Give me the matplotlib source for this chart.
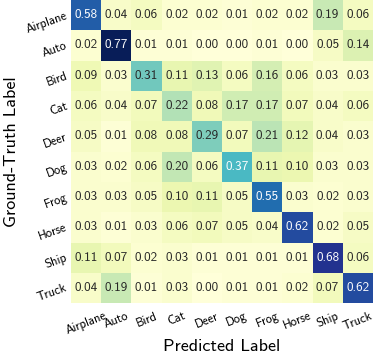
import matplotlib
matplotlib.use("Agg")
import matplotlib.pyplot as plt
import numpy as np
import seaborn as sns

classes = ["Airplane", "Auto", "Bird", "Cat", "Deer", "Dog", "Frog", "Horse", "Ship", "Truck"]

row_airplane = [0.58, 0.04, 0.06, 0.02, 0.02, 0.01, 0.02, 0.02, 0.19, 0.06]
row_auto = [0.02, 0.77, 0.01, 0.01, 0.00, 0.00, 0.01, 0.00, 0.05, 0.14]
row_bird = [0.09, 0.03, 0.31, 0.11, 0.13, 0.06, 0.16, 0.06, 0.03, 0.03]
row_cat = [0.06, 0.04, 0.07, 0.22, 0.08, 0.17, 0.17, 0.07, 0.04, 0.06]
row_deer = [0.05, 0.01, 0.08, 0.08, 0.29, 0.07, 0.21, 0.12, 0.04, 0.03]
row_dog = [0.03, 0.02, 0.06, 0.20, 0.06, 0.37, 0.11, 0.10, 0.03, 0.03]
row_frog = [0.03, 0.03, 0.05, 0.10, 0.11, 0.05, 0.55, 0.03, 0.02, 0.03]
row_horse = [0.03, 0.01, 0.03, 0.06, 0.07, 0.05, 0.04, 0.62, 0.02, 0.05]
row_ship = [0.11, 0.07, 0.02, 0.03, 0.01, 0.01, 0.01, 0.01, 0.68, 0.06]
row_truck = [0.04, 0.19, 0.01, 0.03, 0.00, 0.01, 0.01, 0.02, 0.07, 0.62]

matriz = np.array([row_airplane, row_auto, row_bird, row_cat, row_deer,
                   row_dog, row_frog, row_horse, row_ship, row_truck])

plt.rcParams["font.family"] = ["cmss10", "DejaVu Sans"]
plt.rcParams["axes.unicode_minus"] = False

fig = plt.figure(figsize=(3.74, 3.55), dpi=100)
ax = fig.add_axes([0.19, 0.146, 0.807, 0.854])

sns.heatmap(matriz, annot=True, fmt=".2f", cmap="YlGnBu", vmin=0, vmax=0.77,
            cbar=False, ax=ax, annot_kws={"fontsize": 9.5},
            xticklabels=classes, yticklabels=classes)

ax.tick_params(axis="y", length=0, labelsize=9, pad=3)
ax.tick_params(axis="x", length=0, labelsize=9, pad=5)
plt.setp(ax.get_xticklabels(), rotation=22, ha="center")
plt.setp(ax.get_yticklabels(), rotation=20, ha="right", rotation_mode="anchor")

ax.set_xlabel("Predicted Label", fontsize=13, labelpad=1)
ax.set_ylabel("Ground-Truth Label", fontsize=13)

fig.savefig("out.png", dpi=100)
plt.close(fig)
